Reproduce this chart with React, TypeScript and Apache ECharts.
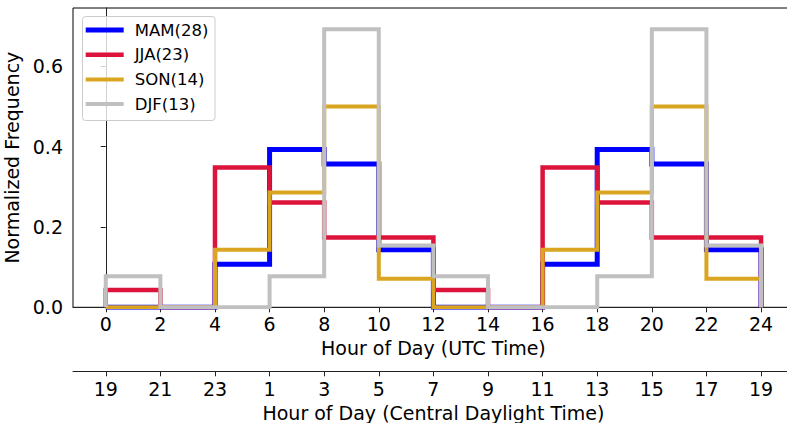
import React, { useEffect, useRef } from "react";
import * as echarts from "echarts";

const binEdges = [0, 2, 4, 6, 8, 10, 12, 14, 16, 18, 20, 22, 24];
const utcTicks = [0, 2, 4, 6, 8, 10, 12, 14, 16, 18, 20, 22, 24];
const cdtLabels = ["19", "21", "23", "1", "3", "5", "7", "9", "11", "13", "15", "17", "19"];
const yTicks = [0, 0.2, 0.4, 0.6];

const seriesNames = ["MAM(28)", "JJA(23)", "SON(14)", "DJF(13)"];
const mam = [0, 0, 0.107, 0.393, 0.357, 0.143, 0, 0, 0.107, 0.393, 0.357, 0.143];
const jja = [0.043, 0, 0.348, 0.261, 0.174, 0.174, 0.043, 0, 0.348, 0.261, 0.174, 0.174];
const son = [0, 0, 0.143, 0.286, 0.5, 0.071, 0, 0, 0.143, 0.286, 0.5, 0.071];
const djf = [0.077, 0, 0, 0.077, 0.692, 0.154, 0.077, 0, 0, 0.077, 0.692, 0.154];

const colors = ["#0000ff", "#dc143c", "#daa520", "#c0c0c0"];
const widths = [5, 4.5, 4, 4];

const FONT = "DejaVu Sans";

function stepPoints(vals: number[]): number[][] {
  const pts: number[][] = [[binEdges[0], 0]];
  for (let i = 0; i < vals.length; i++) {
    pts.push([binEdges[i], vals[i]]);
    pts.push([binEdges[i + 1], vals[i]]);
  }
  pts.push([binEdges[binEdges.length - 1], 0]);
  return pts;
}

export default function App() {
  const ref = useRef<HTMLDivElement>(null);
  useEffect(() => {
    if (!ref.current) return;
    const chart = echarts.init(ref.current, null, { renderer: "svg" });
    const all = [mam, jja, son, djf];
    const axisColor = "#222";
    const xBase = {
      type: "value",
      min: -1.2,
      max: 25.2,
      position: "bottom",
      splitLine: { show: false },
      axisLine: { show: true, onZero: false, lineStyle: { color: axisColor, width: 1 } },
      axisTick: { show: true, customValues: utcTicks, length: 5, lineStyle: { color: axisColor, width: 1 } },
      nameLocation: "middle",
      nameTextStyle: { fontSize: 19, color: "#000", fontFamily: FONT },
    };
    chart.setOption({
      animation: false,
      grid: {
        left: 73,
        top: 8,
        right: -6.8,
        bottom: 115.7,
        show: true,
        borderColor: "#000",
        borderWidth: 1,
        backgroundColor: "transparent",
        outerBoundsMode: "none",
        containLabel: false,
      },
      legend: {
        data: seriesNames.map((n, i) => ({
          name: n,
          icon: `path://M0 0H38V${widths[i]}H0Z`,
        })),
        orient: "vertical",
        left: 85.7,
        top: 21.5,
        itemWidth: 38,
        itemHeight: 17,
        itemGap: 7.7,
        padding: 0,
        selectedMode: false,
        z: 4,
        textStyle: {
          fontSize: 16.5,
          lineHeight: 17,
          fontFamily: FONT,
          color: "#000",
          padding: [0, 0, 0, 6],
        },
      },
      graphic: [
        {
          type: "rect",
          z: 3,
          shape: { x: 82.5, y: 16.5, width: 132.5, height: 104, r: 3 },
          style: { fill: "rgba(255,255,255,0.8)", stroke: "#cccccc", lineWidth: 1 },
        },
      ],
      xAxis: [
        {
          ...xBase,
          name: "Hour of Day (UTC Time)",
          nameGap: 31,
          axisLabel: {
            customValues: utcTicks,
            fontSize: 19,
            color: "#000",
            fontFamily: FONT,
            margin: 7,
          },
        },
        {
          ...xBase,
          offset: 64,
          name: "Hour of Day (Central Daylight Time)",
          nameGap: 32,
          axisLabel: {
            customValues: utcTicks,
            fontSize: 19,
            color: "#000",
            fontFamily: FONT,
            margin: 8,
            formatter: (v: number) => {
              const idx = utcTicks.findIndex((t) => Math.abs(t - v) < 1e-6);
              return idx >= 0 ? cdtLabels[idx] : "";
            },
          },
        },
      ],
      yAxis: {
        type: "value",
        min: 0,
        max: 0.745,
        splitLine: { show: false },
        axisLine: { show: true, lineStyle: { color: axisColor, width: 1 } },
        axisTick: { show: true, customValues: yTicks, length: 5, lineStyle: { color: axisColor, width: 1 } },
        axisLabel: {
          customValues: yTicks,
          fontSize: 19,
          color: "#000",
          fontFamily: FONT,
          margin: 10,
          formatter: (v: number) => v.toFixed(1),
        },
        name: "Normalized Frequency",
        nameLocation: "middle",
        nameGap: 44,
        nameTextStyle: { fontSize: 19, color: "#000", fontFamily: FONT },
      },
      series: all.map((vals, i) => ({
        name: seriesNames[i],
        type: "line",
        xAxisIndex: 0,
        yAxisIndex: 0,
        data: stepPoints(vals),
        showSymbol: false,
        symbol: "none",
        clip: true,
        color: colors[i],
        lineStyle: { color: colors[i], width: widths[i], join: "miter", cap: "butt" },
        itemStyle: { color: colors[i] },
        z: 2 + i * 0.01,
      })),
    });
    return () => chart.dispose();
  }, []);
  return (
    <div
      ref={ref}
      style={{ position: "absolute", left: 0, top: 0, width: 787, height: 423, background: "#fff" }}
    />
  );
}
